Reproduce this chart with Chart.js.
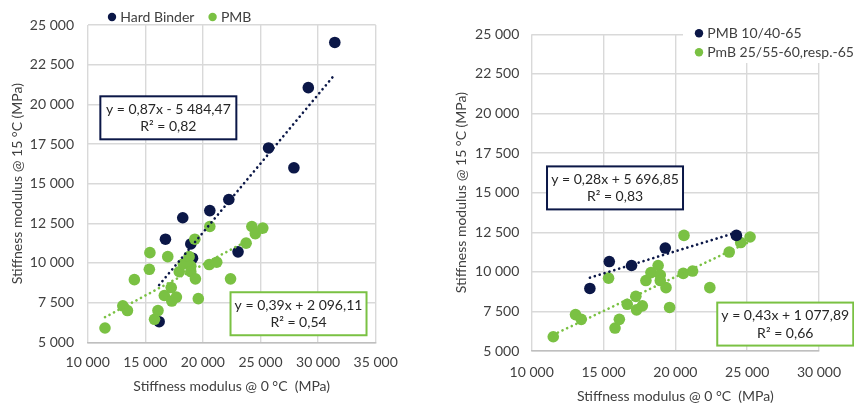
<!DOCTYPE html>
<html>
<head>
<meta charset="utf-8">
<script src="https://cdn.jsdelivr.net/npm/chart.js@4.4.1/dist/chart.umd.min.js"></script>
<style>
  html, body { margin: 0; padding: 0; background: #fff; }
  body { width: 854px; height: 403px; position: relative; overflow: hidden; }
  .panel { position: absolute; top: 0; }
  #leftPanel { left: 0; }
  #rightPanel { left: 430px; }
</style>
</head>
<body>
<div class="panel" id="leftPanel"><canvas id="chartLeft" width="430" height="403"></canvas></div>
<div class="panel" id="rightPanel"><canvas id="chartRight" width="424" height="403"></canvas></div>
<script>
// stiffness pairs in MPa: *_0 = modulus @ 0 °C, *_15 = modulus @ 15 °C
const hardBinder0  = [31450, 29150, 25700, 27900, 22250, 20600, 18250, 16750, 18950, 23050, 19100, 16200];
const hardBinder15 = [23900, 21050, 17250, 16000, 14000, 13300, 12850, 11500, 11200, 10700, 10300, 6300];

const pmb1040_0  = [14050, 15400, 16950, 19300, 24250];
const pmb1040_15 = [8950, 10650, 10400, 11500, 12300];

const pmb2555_0  = [11500, 13050, 13450, 15350, 15800, 16100, 16650, 17250, 17300, 17700, 17950, 18300, 18800, 18950, 18950, 19350, 19600, 20600, 20550, 21200, 22400, 23750, 24550, 25200];
const pmb2555_15 = [5900, 7300, 7000, 9600, 6450, 7000, 7950, 8450, 7600, 7850, 9450, 9950, 10400, 9800, 9450, 9000, 7750, 12300, 9900, 10050, 9000, 11250, 11850, 12200];

// linear fits: [slope, intercept, R²]
const hardFit    = [0.87, -5484.47, 0.82];
const pmbFit     = [0.39, 2096.11, 0.54];
const pmb1040Fit = [0.28, 5696.85, 0.83];
const pmb2555Fit = [0.43, 1077.89, 0.66];

const xTicksLeft  = [10000, 35000];
const xTicksRight = [10000, 30000];
const yTicks      = [5000, 25000];

const NAVY = '#0b1747';
const GREEN = '#7ac143';
const INK = '#404040';
const FONT = 'Lato, "DejaVu Sans", sans-serif';

function groupDigits(s) {
  return s.replace(/\B(?=(\d{3})+(?!\d))/g, ' ');
}

function fmt(v) {
  const [int, dec] = Math.abs(v).toFixed(2).split('.');
  return groupDigits(int) + ',' + dec;
}

function equationText(fit) {
  return `y = ${fmt(fit[0])}x ${fit[1] < 0 ? '-' : '+'} ${fmt(fit[1])}`;
}

const toPoints = (xs, ys) => xs.map((x, i) => ({ x, y: ys[i] }));

function pointSet(label, xs, ys, color, order) {
  return {
    label,
    data: toPoints(xs, ys),
    backgroundColor: color,
    borderWidth: 0,
    pointRadius: 5.8,
    pointHoverRadius: 5.8,
    order
  };
}

// dotted trend line over the x-range of the series
function trendSet(xs, fit, color) {
  const lo = Math.min(...xs), hi = Math.max(...xs);
  return {
    isTrend: true,
    data: [{ x: lo, y: fit[0] * lo + fit[1] }, { x: hi, y: fit[0] * hi + fit[1] }],
    showLine: true,
    borderColor: color,
    borderWidth: 2.6,
    borderDash: [0.1, 5],
    borderCapStyle: 'round',
    pointRadius: 0,
    order: 0
  };
}

// legend drawn straight onto the canvas so it can sit where we want
const seriesKey = {
  id: 'seriesKey',
  afterDraw(chart, args, opts) {
    const ctx = chart.ctx;
    const items = chart.data.datasets.filter(d => !d.isTrend);
    ctx.save();
    if (opts.background) {
      ctx.fillStyle = '#fff';
      ctx.fillRect(...opts.background);
    }
    ctx.font = `14px ${FONT}`;
    ctx.textBaseline = 'middle';
    let x = opts.x, y = opts.y;
    items.forEach(ds => {
      ctx.fillStyle = ds.backgroundColor;
      ctx.beginPath();
      ctx.arc(x + 4.2, y, 4.2, 0, Math.PI * 2);
      ctx.fill();
      ctx.fillStyle = INK;
      ctx.fillText(ds.label, x + 12.5, y + 0.5);
      if (opts.vertical) y += opts.step;
      else x += 12.5 + ctx.measureText(ds.label).width + 14;
    });
    ctx.restore();
  }
};

// framed regression equation boxes, anchored in data units
const fitLabels = {
  id: 'fitLabels',
  afterDraw(chart, args, opts) {
    const { ctx, scales: { x, y } } = chart;
    ctx.save();
    ctx.font = `14px ${FONT}`;
    ctx.textAlign = 'center';
    ctx.textBaseline = 'middle';
    opts.boxes.forEach(b => {
      const cx = x.getPixelForValue(b.at[0]);
      const cy = y.getPixelForValue(b.at[1]);
      const lines = [equationText(b.fit), `R² = ${fmt(b.fit[2])}`];
      const w = 136, h = 43;
      ctx.fillStyle = '#fff';
      ctx.fillRect(cx - w / 2, cy - h / 2, w, h);
      ctx.strokeStyle = b.color;
      ctx.lineWidth = 2;
      ctx.strokeRect(cx - w / 2, cy - h / 2, w, h);
      ctx.fillStyle = '#262626';
      ctx.fillText(lines[0], cx, cy - 8.5);
      ctx.fillText(lines[1], cx, cy + 9);
    });
    ctx.restore();
  }
};

function axes(xTicks, geo) {
  const tickFont = { family: FONT, size: 14 };
  const grid = { color: '#d9d9d9', lineWidth: 1.4, drawTicks: false };
  return {
    x: {
      type: 'linear',
      min: xTicks[0],
      max: xTicks[1],
      grid,
      border: { color: '#bfbfbf', width: 1.5 },
      ticks: { stepSize: 5000, padding: geo.xTickPad, color: INK, font: tickFont,
               callback: v => groupDigits(String(v)) },
      title: { display: true, text: 'Stiffness modulus @ 0 °C  (MPa)', color: INK,
               font: { family: FONT, size: 14, lineHeight: 1 }, padding: { top: 0, bottom: geo.xTitlePad } },
      afterFit: s => { s.height = geo.xAxisH; }
    },
    y: {
      type: 'linear',
      min: yTicks[0],
      max: yTicks[1],
      grid,
      border: { display: false },
      ticks: { stepSize: 2500, padding: geo.yTickPad, color: INK, font: tickFont,
               callback: v => groupDigits(String(v)) },
      title: { display: true, text: 'Stiffness modulus @ 15 °C (MPa)', color: INK,
               font: { family: FONT, size: 14, lineHeight: 1 }, padding: { top: geo.yTitlePad, bottom: 0 } },
      afterFit: s => { s.width = geo.yAxisW; }
    }
  };
}

const common = {
  responsive: false,
  animation: false,
  devicePixelRatio: 1,
  events: []
};

new Chart(document.getElementById('chartLeft'), {
  type: 'scatter',
  data: {
    datasets: [
      pointSet('Hard Binder', hardBinder0, hardBinder15, NAVY, 2),
      pointSet('PMB', pmb1040_0.concat(pmb2555_0), pmb1040_15.concat(pmb2555_15), GREEN, 1),
      trendSet(hardBinder0, hardFit, NAVY),
      trendSet(pmb1040_0.concat(pmb2555_0), pmbFit, GREEN)
    ]
  },
  options: {
    ...common,
    layout: { padding: { left: 0, top: 25, right: 54.3, bottom: 0 } },
    scales: axes(xTicksLeft, { xAxisH: 60.7, yAxisW: 87.7, xTickPad: 12, yTickPad: 13.7, xTitlePad: 9.3, yTitlePad: 10 }),
    plugins: {
      legend: { display: false },
      tooltip: { enabled: false },
      seriesKey: { x: 107.8, y: 17 },
      fitLabels: { boxes: [
        { fit: hardFit, color: NAVY, at: [17000, 19150] },
        { fit: pmbFit, color: GREEN, at: [28300, 6800] }
      ] }
    }
  },
  plugins: [seriesKey, fitLabels]
});

new Chart(document.getElementById('chartRight'), {
  type: 'scatter',
  data: {
    datasets: [
      pointSet('PMB 10/40-65', pmb1040_0, pmb1040_15, NAVY, 1),
      pointSet('PmB 25/55-60,resp.-65', pmb2555_0, pmb2555_15, GREEN, 2),
      trendSet(pmb1040_0, pmb1040Fit, NAVY),
      trendSet(pmb2555_0, pmb2555Fit, GREEN)
    ]
  },
  options: {
    ...common,
    layout: { padding: { left: 0, top: 34.3, right: 34.7, bottom: 0 } },
    scales: axes(xTicksRight, { xAxisH: 52, yAxisW: 101.7, xTickPad: 12.9, yTickPad: 12.4, xTitlePad: 0, yTitlePad: 24 }),
    plugins: {
      legend: { display: false },
      tooltip: { enabled: false },
      seriesKey: { x: 264.8, y: 33.3, vertical: true, step: 19, background: [253, 0, 171, 63] },
      fitLabels: { boxes: [
        { fit: pmb1040Fit, color: NAVY, at: [15800, 15300] },
        { fit: pmb2555Fit, color: GREEN, at: [27650, 6700] }
      ] }
    }
  },
  plugins: [seriesKey, fitLabels]
});
</script>
</body>
</html>
